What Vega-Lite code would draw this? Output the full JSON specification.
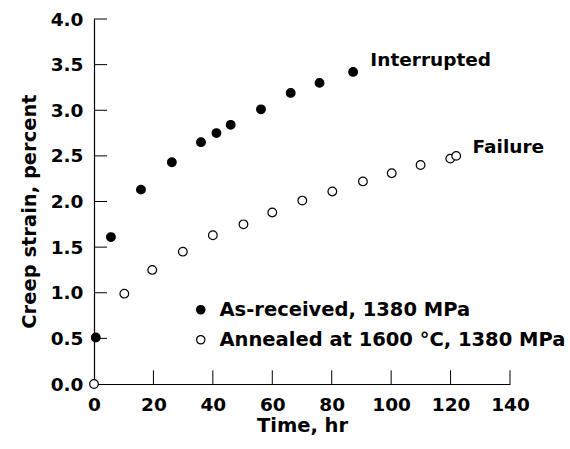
{
  "$schema": "https://vega.github.io/schema/vega-lite/v6.json",
  "width": 416,
  "height": 365,
  "autosize": {"type": "none"},
  "padding": {"left": 94, "top": 19, "right": 60, "bottom": 65},
  "background": "white",
  "datasets": {
    "points": [
      {"time": 0.6, "strain": 0.51, "series": "As-received, 1380 MPa"},
      {"time": 5.7, "strain": 1.61, "series": "As-received, 1380 MPa"},
      {"time": 15.8, "strain": 2.13, "series": "As-received, 1380 MPa"},
      {"time": 26.2, "strain": 2.43, "series": "As-received, 1380 MPa"},
      {"time": 36.0, "strain": 2.65, "series": "As-received, 1380 MPa"},
      {"time": 41.2, "strain": 2.75, "series": "As-received, 1380 MPa"},
      {"time": 46.0, "strain": 2.84, "series": "As-received, 1380 MPa"},
      {"time": 56.2, "strain": 3.01, "series": "As-received, 1380 MPa"},
      {"time": 66.2, "strain": 3.19, "series": "As-received, 1380 MPa"},
      {"time": 75.9, "strain": 3.30, "series": "As-received, 1380 MPa"},
      {"time": 87.2, "strain": 3.42, "series": "As-received, 1380 MPa"},
      {"time": 0.0, "strain": 0.0, "series": "Annealed at 1600 °C, 1380 MPa"},
      {"time": 10.2, "strain": 0.99, "series": "Annealed at 1600 °C, 1380 MPa"},
      {"time": 19.6, "strain": 1.25, "series": "Annealed at 1600 °C, 1380 MPa"},
      {"time": 29.9, "strain": 1.45, "series": "Annealed at 1600 °C, 1380 MPa"},
      {"time": 40.0, "strain": 1.63, "series": "Annealed at 1600 °C, 1380 MPa"},
      {"time": 50.3, "strain": 1.75, "series": "Annealed at 1600 °C, 1380 MPa"},
      {"time": 60.0, "strain": 1.88, "series": "Annealed at 1600 °C, 1380 MPa"},
      {"time": 70.1, "strain": 2.01, "series": "Annealed at 1600 °C, 1380 MPa"},
      {"time": 80.2, "strain": 2.11, "series": "Annealed at 1600 °C, 1380 MPa"},
      {"time": 90.5, "strain": 2.22, "series": "Annealed at 1600 °C, 1380 MPa"},
      {"time": 100.2, "strain": 2.31, "series": "Annealed at 1600 °C, 1380 MPa"},
      {"time": 109.9, "strain": 2.40, "series": "Annealed at 1600 °C, 1380 MPa"},
      {"time": 119.9, "strain": 2.47, "series": "Annealed at 1600 °C, 1380 MPa"},
      {"time": 121.9, "strain": 2.50, "series": "Annealed at 1600 °C, 1380 MPa"}
    ],
    "labels": [
      {"time": 93, "strain": 3.55, "text": "Interrupted"},
      {"time": 127.4, "strain": 2.6, "text": "Failure"}
    ],
    "xticks": [{"t": 20}, {"t": 40}, {"t": 60}, {"t": 80}, {"t": 100}, {"t": 120}, {"t": 140}],
    "yticks": [{"t": 0.5}, {"t": 1}, {"t": 1.5}, {"t": 2}, {"t": 2.5}, {"t": 3}, {"t": 3.5}, {"t": 4}]
  },
  "config": {
    "view": {"stroke": null},
    "font": "DejaVu Sans",
    "axis": {
      "grid": false,
      "domainColor": "black",
      "domainWidth": 1.2,
      "ticks": false,
      "labelFont": "DejaVu Sans",
      "labelFontSize": 18.5,
      "labelFontWeight": "bold",
      "labelColor": "black",
      "titleFont": "DejaVu Sans",
      "titleFontSize": 19.5,
      "titleFontWeight": "bold",
      "titleColor": "black"
    }
  },
  "layer": [
    {
      "data": {"name": "xticks"},
      "mark": {"type": "rule", "color": "black", "strokeWidth": 1},
      "encoding": {
        "x": {"field": "t", "type": "quantitative"},
        "y": {"datum": 0, "type": "quantitative"},
        "y2": {"datum": 0.15}
      }
    },
    {
      "data": {"name": "yticks"},
      "mark": {"type": "rule", "color": "black", "strokeWidth": 1},
      "encoding": {
        "y": {"field": "t", "type": "quantitative"},
        "x": {"datum": 0, "type": "quantitative"},
        "x2": {"datum": 4.4}
      }
    },
    {
      "data": {"name": "points"},
      "mark": {"type": "circle", "size": 75, "stroke": "black", "strokeWidth": 1.2, "opacity": 1},
      "encoding": {
        "x": {
          "field": "time", "type": "quantitative",
          "scale": {"domain": [0, 140], "nice": false, "zero": false},
          "axis": {"title": "Time, hr", "values": [0, 20, 40, 60, 80, 100, 120, 140], "labelFlush": false, "titlePadding": 3, "labelPadding": 11}
        },
        "y": {
          "field": "strain", "type": "quantitative",
          "scale": {"domain": [0, 4], "nice": false},
          "axis": {"title": "Creep strain, percent", "values": [0, 0.5, 1, 1.5, 2, 2.5, 3, 3.5, 4], "format": ".1f", "labelFlush": false, "titlePadding": 11, "titleY": 192, "labelPadding": 11}
        },
        "fill": {
          "field": "series", "type": "nominal",
          "scale": {"domain": ["As-received, 1380 MPa", "Annealed at 1600 °C, 1380 MPa"], "range": ["black", "white"]},
          "legend": {
            "orient": "none", "legendX": 97, "legendY": 281,
            "title": null,
            "labelFont": "DejaVu Sans", "labelFontSize": 19.5, "labelFontWeight": "bold", "labelColor": "black",
            "labelLimit": 600, "labelOffset": 9,
            "symbolType": "circle", "symbolSize": 70,
            "symbolStrokeColor": "black", "symbolStrokeWidth": 1.2,
            "rowPadding": 9, "padding": 0
          }
        }
      }
    },
    {
      "data": {"name": "labels"},
      "mark": {"type": "text", "align": "left", "baseline": "middle", "font": "DejaVu Sans", "fontSize": 18.5, "fontWeight": "bold", "color": "black"},
      "encoding": {
        "x": {"field": "time", "type": "quantitative"},
        "y": {"field": "strain", "type": "quantitative"},
        "text": {"field": "text"}
      }
    }
  ]
}
